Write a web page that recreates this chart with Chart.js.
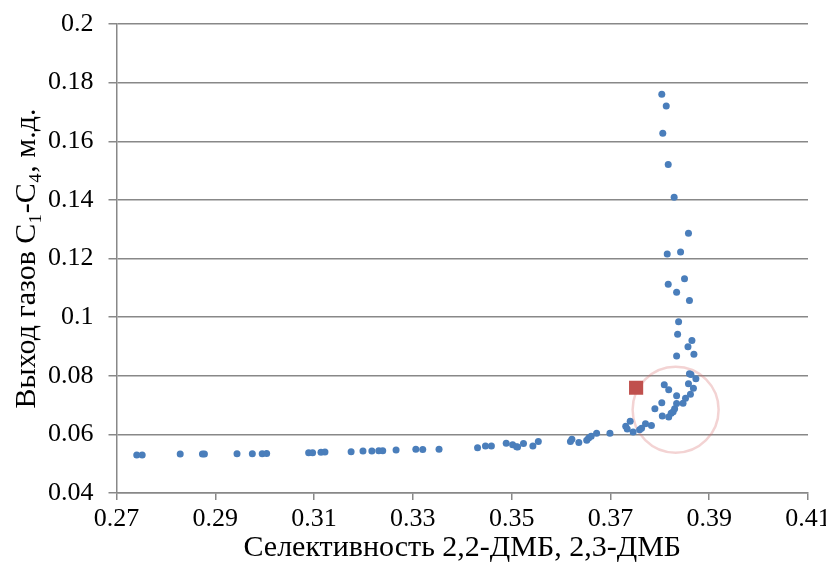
<!DOCTYPE html>
<html>
<head>
<meta charset="utf-8">
<script src="https://cdn.jsdelivr.net/npm/chart.js@4/dist/chart.umd.min.js"></script>
<style>
    html, body { margin: 0; padding: 0; background: #ffffff; }
    #wrap { width: 826px; height: 572px; }
</style>
</head>
<body>
<div id="wrap"><canvas id="gasChart" width="826" height="572"></canvas></div>
<script>
// Селективность по 2,2-ДМБ + 2,3-ДМБ (ось X)
const selectivity = [
    0.2741, 0.2752, 0.2829, 0.2874, 0.2878, 0.2944, 0.2975, 0.2995, 0.3004, 0.3089,
    0.3097, 0.3114, 0.3122, 0.3175, 0.3199, 0.3217, 0.3231, 0.3239, 0.3266, 0.3306,
    0.3320, 0.3353, 0.3431, 0.3447, 0.3459, 0.3489, 0.3502, 0.3510, 0.3512, 0.3524,
    0.3543, 0.3554, 0.3619, 0.3622, 0.3636, 0.3652, 0.3656, 0.3661, 0.3672, 0.3699,
    0.3731, 0.3734, 0.3740, 0.3746, 0.3759, 0.3763, 0.3771, 0.3783, 0.3790, 0.3804,
    0.3805, 0.3818, 0.3823, 0.3827, 0.3830, 0.3834, 0.3834, 0.3847, 0.3852, 0.3862,
    0.3809, 0.3818, 0.3858, 0.3868, 0.3860, 0.3863, 0.3873, 0.3834, 0.3869, 0.3836,
    0.3865, 0.3857, 0.3838, 0.3860, 0.3850, 0.3834, 0.3817, 0.3815, 0.3842, 0.3858,
    0.3829, 0.3817, 0.3806, 0.3813, 0.3804
];

// Выход газов C1-C4, м.д. (ось Y)
const gasYield = [
    0.0530, 0.0530, 0.0533, 0.0533, 0.0533, 0.0534, 0.0534, 0.0534, 0.0535, 0.0537,
    0.0537, 0.0539, 0.0540, 0.0541, 0.0543, 0.0543, 0.0544, 0.0544, 0.0547, 0.0549,
    0.0548, 0.0549, 0.0554, 0.0560, 0.0560, 0.0570, 0.0565, 0.0558, 0.0557, 0.0569,
    0.0560, 0.0576, 0.0576, 0.0583, 0.0572, 0.0580, 0.0588, 0.0594, 0.0604, 0.0604,
    0.0628, 0.0618, 0.0645, 0.0608, 0.0616, 0.0621, 0.0636, 0.0630, 0.0687, 0.0708,
    0.0663, 0.0659, 0.0672, 0.0677, 0.0687, 0.0705, 0.0732, 0.0706, 0.0723, 0.0737,
    0.0769, 0.0752, 0.0773, 0.0757, 0.0807, 0.0804, 0.0790, 0.0867, 0.0873, 0.0942,
    0.0920, 0.0899, 0.0984, 0.1057, 0.1131, 0.1085, 0.1112, 0.1215, 0.1222, 0.1286,
    0.1409, 0.1521, 0.1627, 0.1720, 0.1760
];

// Отдельная точка (красный квадрат)
const markedX = [0.3752];
const markedY = [0.0759];

// Центр выделяющей окружности
const circleX = [0.3832];
const circleY = [0.0684];

// Подписи делений
const xTicks = [0.27, 0.29, 0.31, 0.33, 0.35, 0.37, 0.39, 0.41];
const yTicks = [0.04, 0.06, 0.08, 0.1, 0.12, 0.14, 0.16, 0.18, 0.2];

function toPoints(xs, ys) {
    return xs.map((x, i) => ({ x: x, y: ys[i] }));
}

console.log('points:', selectivity.length, gasYield.length);

const axisColor = '#888888';
const fontFamily = '"Liberation Serif", "Times New Roman", serif';

const ctx = document.getElementById('gasChart').getContext('2d');
const gasChart = new Chart(ctx, {
    type: 'scatter',
    data: {
        datasets: [
            {
                label: 'Выход газов',
                data: toPoints(selectivity, gasYield),
                backgroundColor: '#4a7ebb',
                borderColor: '#4a7ebb',
                borderWidth: 0,
                pointRadius: 3.5,
                order: 2
            },
            {
                label: 'Точка',
                data: toPoints(markedX, markedY),
                pointStyle: 'rect',
                backgroundColor: '#c0504d',
                borderColor: '#c0504d',
                borderWidth: 0,
                pointRadius: 10,
                order: 1
            },
            {
                label: 'Окружность',
                data: toPoints(circleX, circleY),
                backgroundColor: 'rgba(0,0,0,0)',
                borderColor: 'rgba(214, 110, 110, 0.3)',
                borderWidth: 2.5,
                pointRadius: 43,
                order: 3
            }
        ]
    },
    options: {
        responsive: false,
        animation: false,
        events: [],
        layout: {
            autoPadding: false, // иначе большой радиус окружности раздувает отступы
            padding: { left: 6, right: 18, top: 24, bottom: 4 }
        },
        plugins: {
            legend: { display: false },
            tooltip: { enabled: false }
        },
        scales: {
            x: {
                type: 'linear',
                min: 0.27,
                max: 0.41,
                afterBuildTicks: (scale) => {
                    scale.ticks = xTicks.map(v => ({ value: v }));
                },
                afterFit: (scale) => {
                    scale.height = 572 - 4 - 493;
                    scale.paddingLeft = 0;
                    scale.paddingRight = 0;
                },
                grid: {
                    drawOnChartArea: false,
                    drawTicks: true,
                    tickLength: 7,
                    color: axisColor,
                    lineWidth: 1.5
                },
                border: { display: true, color: axisColor, width: 1.5 },
                ticks: {
                    padding: 4,
                    color: '#000000',
                    font: { family: fontFamily, size: 26 },
                    maxRotation: 0,
                    autoSkip: false,
                    callback: (v) => String(+Number(v).toFixed(2))
                },
                title: {
                    display: true,
                    text: 'Селективность 2,2-ДМБ, 2,3-ДМБ',
                    color: '#000000',
                    font: { family: fontFamily, size: 30 },
                    padding: { top: 0, bottom: 2 }
                }
            },
            y: {
                type: 'linear',
                min: 0.04,
                max: 0.2,
                afterBuildTicks: (scale) => {
                    scale.ticks = yTicks.map(v => ({ value: v }));
                },
                afterFit: (scale) => {
                    scale.width = 116.5 - 6;
                    scale.paddingTop = 0;
                    scale.paddingBottom = 0;
                },
                grid: {
                    drawTicks: true,
                    tickLength: 8,
                    color: axisColor,
                    lineWidth: 1.5
                },
                border: { display: true, color: axisColor, width: 1.5 },
                ticks: {
                    padding: 15,
                    color: '#000000',
                    font: { family: fontFamily, size: 26 },
                    autoSkip: false,
                    callback: (v) => String(+Number(v).toFixed(2))
                },
                title: {
                    display: true,
                    text: 'Выход газов C₁-C₄, м.д.',
                    color: '#000000',
                    font: { family: fontFamily, size: 30 },
                    padding: { top: 3, bottom: 0 }
                }
            }
        }
    }
});
</script>
</body>
</html>
